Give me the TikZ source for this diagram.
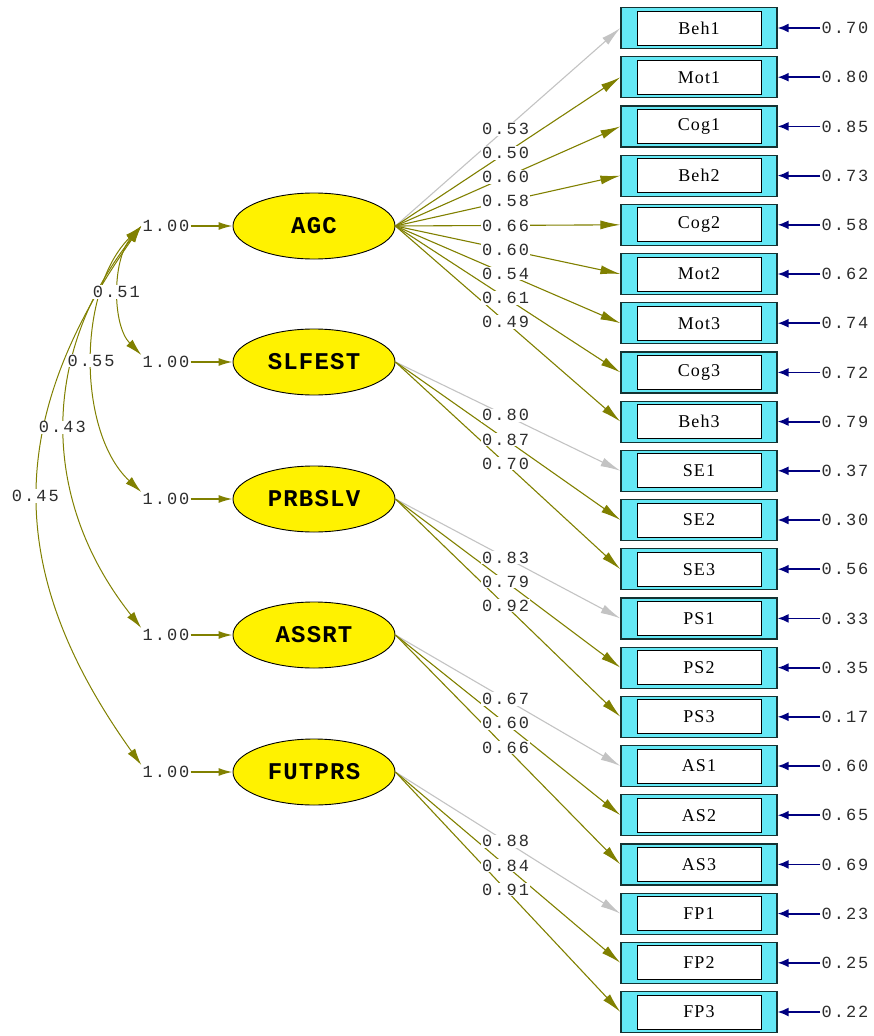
\documentclass[tikz,border=0pt]{standalone}
\usepackage{fontspec}
\setmainfont{Liberation Serif}
\newfontfamily\boxfont[LetterSpace=6]{Liberation Serif}
\newfontfamily\numfont[LetterSpace=12]{Liberation Mono}
\newfontfamily\latfont[LetterSpace=5]{Liberation Mono}
\usetikzlibrary{arrows.meta,shapes.geometric}
\definecolor{olivec}{RGB}{128,128,0}
\definecolor{grayc}{RGB}{195,195,195}
\definecolor{navyc}{RGB}{0,0,128}
\definecolor{cyanc}{RGB}{100,232,245}
\definecolor{numc}{RGB}{45,45,45}
\definecolor{boxline}{RGB}{20,50,50}
\begin{document}
\begin{tikzpicture}[x=1pt,y=-1pt,
  lat/.style={ellipse, draw=black, line width=0.9pt, fill=yellow, minimum width=162pt, minimum height=66pt, inner sep=0pt, font=\latfont\bfseries\fontsize{24}{26}\selectfont},
  obs/.style={rectangle, draw=boxline, line width=1.2pt, fill=cyanc, minimum width=156pt, minimum height=41pt, inner sep=0pt},
  obsin/.style={rectangle, draw=black, line width=0.9pt, fill=white, minimum width=124pt, minimum height=34pt, inner sep=0pt, font=\boxfont\fontsize{18}{20}\selectfont},
  num/.style={font=\numfont\fontsize{17}{19}\selectfont, text=numc, inner sep=1pt},
  lab/.style={num, fill=white},
  load/.style={draw=olivec, line width=1.1pt, -{Latex[length=20pt,width=9pt]}},
  fixload/.style={load, draw=grayc},
  errarr/.style={draw=navyc, line width=1.8pt, -{Latex[length=11pt,width=9pt]}},
  vararr/.style={draw=olivec, line width=1.5pt, -{Latex[length=14pt,width=8pt]}},
  cov/.style={draw=olivec, line width=1pt, {Latex[length=17pt,width=9pt]}-{Latex[length=17pt,width=9pt]}}
]
\useasboundingbox (0,0) rectangle (873,1036);

% latent factors and variances
\foreach \i/\t/\y in {1/AGC/226, 2/SLFEST/362, 3/PRBSLV/499, 4/ASSRT/635, 5/FUTPRS/772}{
  \node[lat] (F\i) at (314,\y) {\t};
  \node[num] (v\i) at (166,\y) {1.00};
  \draw[vararr] (v\i.east) -- (F\i.west);
}

% observed variables with error variances
\foreach \t/\e [count=\i from 0] in {Beh1/0.70, Mot1/0.80, Cog1/0.85, Beh2/0.73, Cog2/0.58, Mot2/0.62, Mot3/0.74, Cog3/0.72, Beh3/0.79, SE1/0.37, SE2/0.30, SE3/0.56, PS1/0.33, PS2/0.35, PS3/0.17, AS1/0.60, AS2/0.65, AS3/0.69, FP1/0.23, FP2/0.25, FP3/0.22}{
  \pgfmathsetmacro{\yy}{28+49.2*\i}
  \node[obs] (b\i) at (699,\yy) {};
  \node[obsin] (t\i) at (b\i.center) {\t};
  \node[num] (e\i) at (845,\yy) {\e};
  \draw[errarr] (e\i.west) -- (b\i.east);
}

% loadings
\foreach \f/\b/\s in {1/0/fixload, 1/1/load, 1/2/load, 1/3/load, 1/4/load, 1/5/load, 1/6/load, 1/7/load, 1/8/load, 2/9/fixload, 2/10/load, 2/11/load, 3/12/fixload, 3/13/load, 3/14/load, 4/15/fixload, 4/16/load, 4/17/load, 5/18/fixload, 5/19/load, 5/20/load}{
  \draw[\s] (F\f.east) -- coordinate[pos=0.49] (L\b) (b\b.west);
}
\foreach \b/\v in {0/0.53, 1/0.50, 2/0.60, 3/0.58, 4/0.66, 5/0.60, 6/0.54, 7/0.61, 8/0.49, 9/0.80, 10/0.87, 11/0.70, 12/0.83, 13/0.79, 14/0.92, 15/0.67, 16/0.60, 17/0.66, 18/0.88, 19/0.84, 20/0.91}{
  \node[lab] (l\b) at (L\b) {\v};
}

% covariances
\draw[cov] (v1.west) .. controls (112,260) and (112,325) .. coordinate[pos=0.5] (C2) (v2.north west);
\draw[cov] (v1.west) .. controls (77,290) and (77,432) .. coordinate[pos=0.5] (C3) (v3.north west);
\draw[cov] (v1.west) .. controls (40,355) and (40,500) .. coordinate[pos=0.5] (C4) (v4.north west);
\draw[cov] (v1.west) .. controls (4,420) and (4,573) .. coordinate[pos=0.5] (C5) (v5.north west);
\node[lab] (c2) at ([xshift=-3pt]C2) {0.51};
\node[lab] (c3) at ([xshift=-2pt]C3) {0.55};
\node[lab] (c4) at ([xshift=-3pt]C4) {0.43};
\node[lab] (c5) at ([xshift=-3pt]C5) {0.45};
\end{tikzpicture}
\end{document}
